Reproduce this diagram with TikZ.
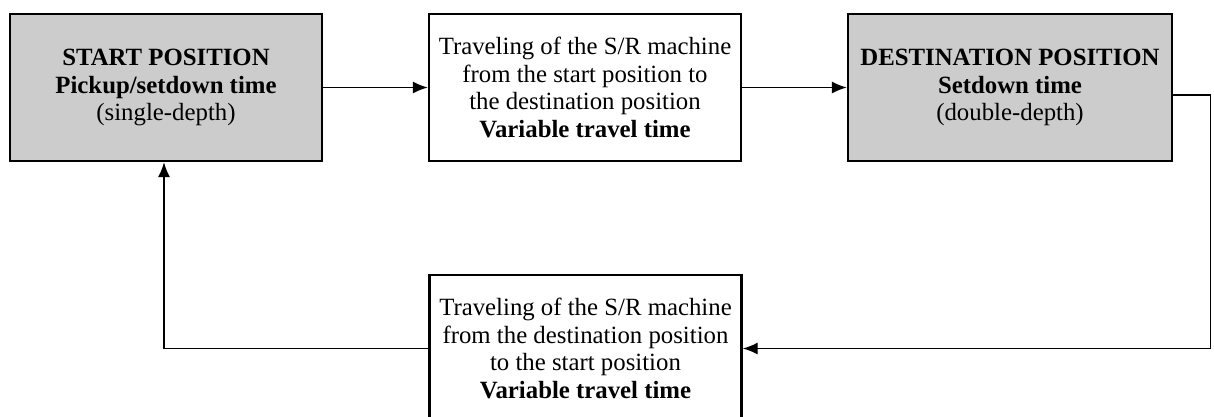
\documentclass[tikz,border=0pt]{standalone}
\usepackage{fontspec}
\setmainfont{Liberation Serif}
\usepackage{tikz}
\usetikzlibrary{arrows.meta}
\usetikzlibrary{shapes}

\tikzset{
  stagebox/.style={draw, line width=1.2pt, minimum width=156pt, minimum height=73.5pt,
    align=center, inner sep=4pt, font=\fontsize{12.4}{13.8}\selectfont},
  posbox/.style={stagebox, fill=black!20},
  flow/.style={line width=0.7pt, -{Latex[length=7.5pt,width=6pt]}}
}

\begin{document}
\begin{tikzpicture}[x=0.5pt, y=-0.5pt]
  \useasboundingbox (0,0) rectangle (1214,417);

  \node[posbox] (start) at (166,87.5)
    {\textbf{START POSITION}\\ \textbf{Pickup/setdown time}\\ (single-depth)};
  \node[stagebox] (go) at (585,87.5)
    {Traveling of the S/R machine\\ from the start position to\\ the destination position\\ \textbf{Variable travel time}};
  \node[posbox, minimum width=162pt] (dest) at (1010,87.5)
    {\textbf{DESTINATION POSITION}\\ \textbf{Setdown time}\\ (double-depth)};
  \node[stagebox] (back) at (585.5,348.5)
    {Traveling of the S/R machine\\ from the destination position\\ to the start position\\ \textbf{Variable travel time}};

  \draw[flow] (start) -- (go);
  \draw[flow] (go) -- (dest);
  \draw[flow] ([yshift=-3.75pt]dest.east) -- ++(37,0) |- (back.east);
  \draw[flow] (back.west) -| ([xshift=-1pt]start.south);
\end{tikzpicture}
\end{document}
